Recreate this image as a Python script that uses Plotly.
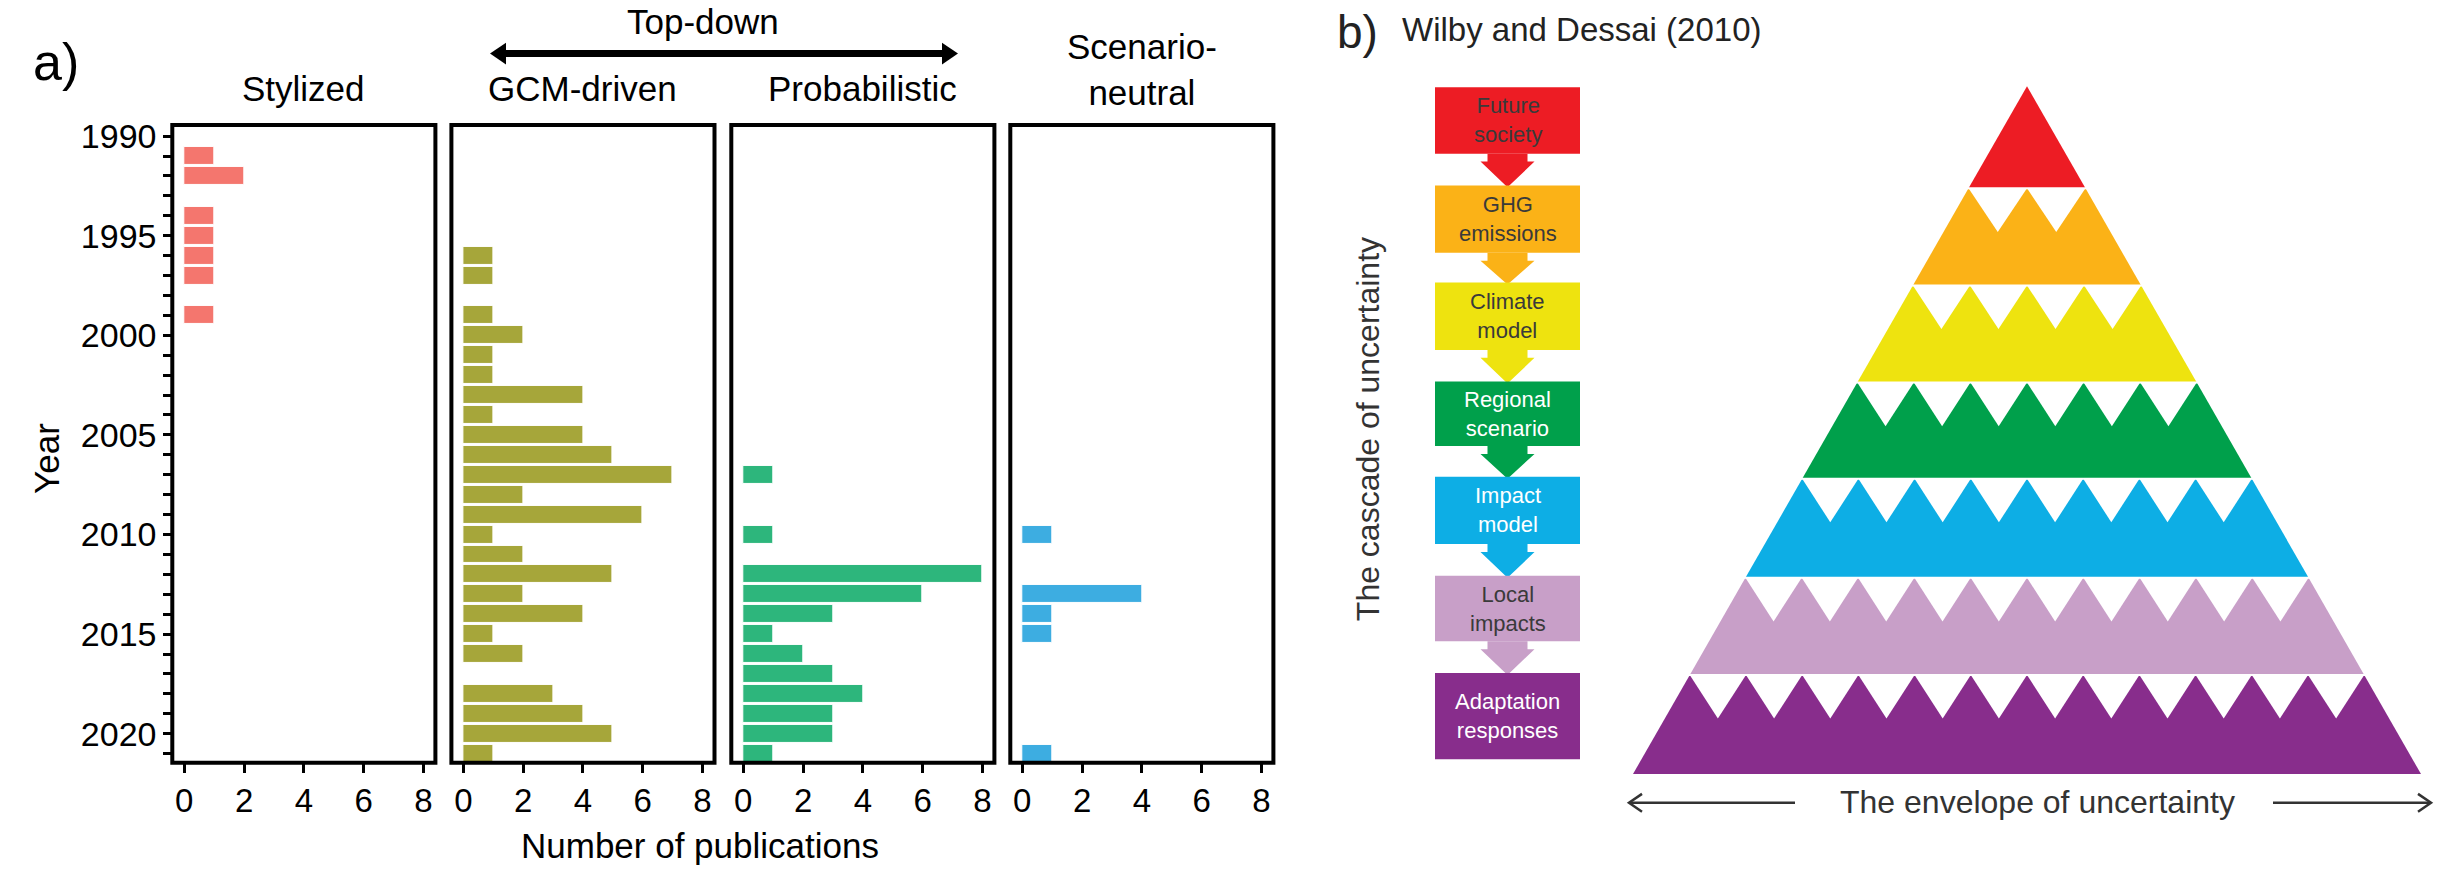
import plotly.graph_objects as go

W, H = 2439, 887

# ---------------- data (panel a) ----------------
panel_names = ["Stylized", "GCM-driven", "Probabilistic", "Scenario-neutral"]
stylized_years = [1991, 1992, 1994, 1995, 1996, 1997, 1999]
stylized_counts = [1, 2, 1, 1, 1, 1, 1]
gcm_years = [1996, 1997, 1999, 2000, 2001, 2002, 2003, 2004, 2005, 2006, 2007, 2008,
             2009, 2010, 2011, 2012, 2013, 2014, 2015, 2016, 2018, 2019, 2020, 2021]
gcm_counts = [1, 1, 1, 2, 1, 1, 4, 1, 4, 5, 7, 2, 6, 1, 2, 5, 2, 4, 1, 2, 3, 4, 5, 1]
prob_years = [2007, 2010, 2012, 2013, 2014, 2015, 2016, 2017, 2018, 2019, 2020, 2021]
prob_counts = [1, 1, 8, 6, 3, 1, 2, 3, 4, 3, 3, 1]
neutral_years = [2010, 2013, 2014, 2015, 2021]
neutral_counts = [1, 4, 1, 1, 1]
panel_colors = ["#F4766E", "#A6A63A", "#2DB67C", "#3DADE1"]
x_ticks = [0, 2, 4, 6, 8]
year_ticks = list(range(1990, 2022))

# ---------------- data (panel b) ----------------
cascade_labels = ["Future<br>society", "GHG<br>emissions", "Climate<br>model", "Regional<br>scenario",
                  "Impact<br>model", "Local<br>impacts", "Adaptation<br>responses"]
cascade_colors = ["#ED1C24", "#FBB217", "#EEE30F", "#00A04B", "#0DAEE5", "#C89FC8", "#882D8C"]
cascade_text_colors = ["#3a3a3a", "#3a3a3a", "#3a3a3a", "#ffffff", "#ffffff", "#3a3a3a", "#ffffff"]

FONT = "Liberation Sans, Arial, Helvetica, sans-serif"


def px(x):
    return x / W


def py(y):
    return 1 - y / H


fig = go.Figure()
layout = {}

series = [(stylized_years, stylized_counts), (gcm_years, gcm_counts),
          (prob_years, prob_counts), (neutral_years, neutral_counts)]
panel_left = [172.3, 451.4, 731.3, 1010.3]
panel_w = 263.1
p_top, p_bot = 118, 761.7

shapes = []
annotations = []


def ann(text, x, y, size, color="black", xanchor="center", yanchor="middle", angle=0, font=FONT):
    annotations.append(dict(text=text, x=px(x), y=py(y), xref="paper", yref="paper",
                            showarrow=False, xanchor=xanchor, yanchor=yanchor, textangle=angle,
                            font=dict(size=size, color=color, family=font)))


for i, ((ys, xs), col) in enumerate(zip(series, panel_colors)):
    sfx = "" if i == 0 else str(i + 1)
    fig.add_trace(go.Bar(x=xs, y=ys, orientation="h", width=0.9,
                         marker=dict(color=col, line=dict(color="white", width=1)),
                         xaxis="x" + sfx, yaxis="y" + sfx, showlegend=False,
                         name=panel_names[i]))
    l = panel_left[i]
    layout["xaxis" + sfx] = dict(domain=[px(l), px(l + panel_w)], range=[-0.4, 8.4],
                                 anchor="y" + sfx, tickvals=x_ticks, ticks="outside",
                                 ticklen=9, tickwidth=3, tickcolor="black",
                                 showgrid=False, zeroline=False, showline=False,
                                 tickfont=dict(size=33, color="black", family=FONT))
    ydict = dict(domain=[py(p_bot), py(p_top)], range=[2021.46, 1989.44], anchor="x" + sfx,
                 showgrid=False, zeroline=False, showline=False)
    if i == 0:
        ydict.update(tickvals=year_ticks,
                     ticktext=[str(v) if v % 5 == 0 else "" for v in year_ticks],
                     ticks="outside", ticklen=8, tickwidth=3, tickcolor="black",
                     tickfont=dict(size=34, color="black", family=FONT))
    else:
        ydict.update(showticklabels=False, ticks="")
    layout["yaxis" + sfx] = ydict
    shapes.append(dict(type="rect", xref="x" + sfx + " domain", yref="y" + sfx + " domain",
                       x0=0, x1=1, y0=0, y1=1, line=dict(color="black", width=4),
                       fillcolor="rgba(0,0,0,0)"))

# panel titles
centers = [l + panel_w / 2 for l in panel_left]
ann("Stylized", centers[0], 81.5, 35)
ann("GCM-driven", centers[1], 81.5, 35)
ann("Probabilistic", centers[2], 81.5, 35)
ann("Scenario-<br>neutral", centers[3], 62, 35)

# Top-down arrow
ann("Top-down", 703, 14, 35)
ay = 46
shapes.append(dict(type="line", xref="paper", yref="paper", x0=px(500), x1=px(948),
                   y0=py(ay), y1=py(ay), line=dict(color="black", width=7)))
for tip, base in [(490, 506), (958, 942)]:
    shapes.append(dict(type="path", xref="paper", yref="paper",
                       path=f"M {px(tip)},{py(ay)} L {px(base)},{py(ay - 11)} L {px(base)},{py(ay + 11)} Z",
                       fillcolor="black", line=dict(width=0)))

ann("a)", 56, 54, 52)
ann("Year", 47, 455, 35, angle=-90)
ann("Number of publications", 700, 845, 35)

# ---------------- panel b ----------------
ann("b)", 1357, 24, 46, color="#222222")
ann("Wilby and Dessai (2010)", 1400, 22, 33, color="#222222", xanchor="left")
ann("The cascade of uncertainty", 1368, 425, 32, color="#333333", angle=-90)
ann("The envelope of uncertainty", 2037, 801, 32, color="#333333")

# envelope arrows
ey = 802
for x_from, x_to in [(1795, 1629), (2273, 2431)]:
    shapes.append(dict(type="line", xref="paper", yref="paper", x0=px(x_from), x1=px(x_to),
                       y0=py(ey), y1=py(ey), line=dict(color="#333333", width=2.5)))
    d = 13 if x_to < x_from else -13
    shapes.append(dict(type="path", xref="paper", yref="paper",
                       path=f"M {px(x_to + d)},{py(ey - 9)} L {px(x_to)},{py(ey)} L {px(x_to + d)},{py(ey + 9)}",
                       line=dict(color="#333333", width=2.5)))

# cascade boxes
bx0, bx1 = 1435, 1580
bxc = (bx0 + bx1) / 2
box_tops = [80, 179, 277, 377, 473, 573, 671]
box_h = [67, 68, 68, 65, 68, 66, 87]
for k, (lab, col, tcol) in enumerate(zip(cascade_labels, cascade_colors, cascade_text_colors)):
    t = box_tops[k]
    b = t + box_h[k]
    shapes.append(dict(type="rect", xref="paper", yref="paper", x0=px(bx0), x1=px(bx1),
                       y0=py(b), y1=py(t), fillcolor=col, line=dict(width=0), layer="below"))
    ann(lab, bxc, (t + b) / 2, 22, color=tcol)
    if k < len(cascade_labels) - 1:
        tip = box_tops[k + 1] + 2
        sb = b + 8
        path = (f"M {px(bxc - 20)},{py(b)} L {px(bxc + 20)},{py(b)} L {px(bxc + 20)},{py(sb)} "
                f"L {px(bxc + 27)},{py(sb)} L {px(bxc)},{py(tip)} L {px(bxc - 27)},{py(sb)} "
                f"L {px(bxc - 20)},{py(sb)} Z")
        shapes.append(dict(type="path", xref="paper", yref="paper", path=path,
                           fillcolor=col, line=dict(width=0), layer="below"))

# pyramid
apex_x, apex_y = 2027, 79
layer_bounds = [79, 182, 280, 378, 475, 575, 673, 773]
slope = 394 / 694
notch_depth = 44


def half(y):
    return (y - apex_y) * slope


for k, col in enumerate(cascade_colors):
    yt, yb = layer_bounds[k], layer_bounds[k + 1]
    path = (f"M {px(apex_x - half(yt))},{py(yt)} L {px(apex_x + half(yt))},{py(yt)} "
            f"L {px(apex_x + half(yb))},{py(yb)} L {px(apex_x - half(yb))},{py(yb)} Z")
    shapes.append(dict(type="path", xref="paper", yref="paper", path=path,
                       fillcolor=col, line=dict(width=0), layer="below"))
    if k > 0:
        L = apex_x - half(yt)
        n = 2 * k
        d = 2 * half(yt) / n
        for j in range(n):
            x0 = L + j * d
            p = (f"M {px(x0)},{py(yt)} L {px(x0 + d)},{py(yt)} "
                 f"L {px(x0 + d / 2)},{py(yt + notch_depth)} Z")
            shapes.append(dict(type="path", xref="paper", yref="paper", path=p,
                               fillcolor="white", line=dict(width=0), layer="below"))
        shapes.append(dict(type="line", xref="paper", yref="paper",
                           x0=px(L - 3), x1=px(apex_x + half(yt) + 3), y0=py(yt), y1=py(yt),
                           line=dict(color="white", width=2), layer="below"))

layout.update(dict(width=W, height=H, margin=dict(l=0, r=0, t=0, b=0),
                   paper_bgcolor="white", plot_bgcolor="white", bargap=0,
                   font=dict(family=FONT, color="black"),
                   shapes=shapes, annotations=annotations, showlegend=False))
fig.update_layout(**layout)

fig.write_html("out.html", config={"displayModeBar": False},
               post_script="document.body.style.margin='0';document.body.style.overflow='hidden';")
